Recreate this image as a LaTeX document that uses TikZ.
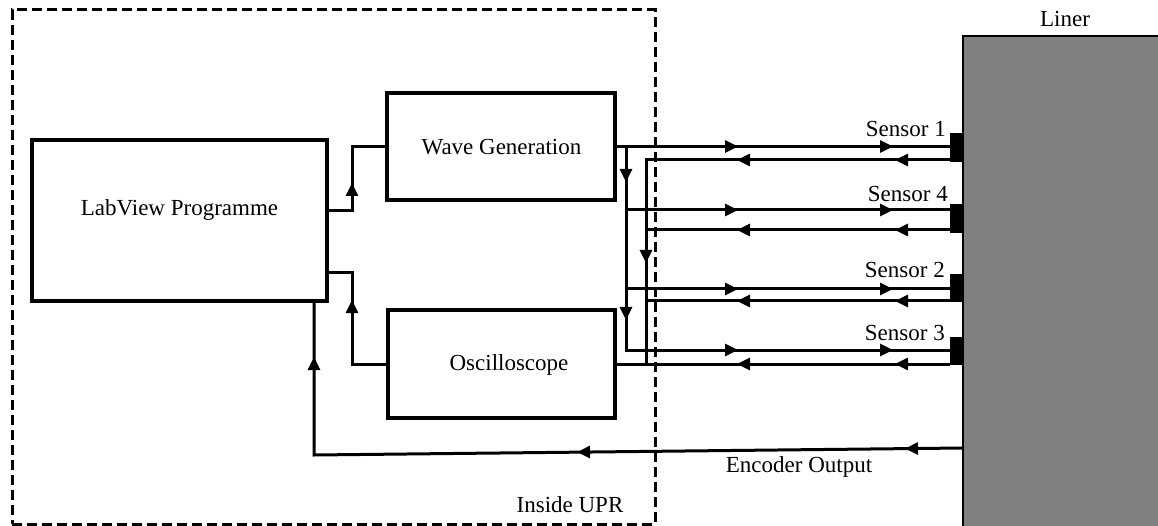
\documentclass[tikz,border=0pt]{standalone}
\usepackage{fontspec}
\setmainfont{Liberation Serif}
\usetikzlibrary{arrows.meta,decorations.markings}
\tikzset{
  wire/.style={line width=3pt},
  blk/.style={draw, line width=3.2pt, inner sep=0pt, outer sep=0pt, anchor=north west},
  uprbox/.style={draw, dash pattern=on 10pt off 5pt, line width=3pt, inner sep=0pt, outer sep=0pt, anchor=north west},
  linerbox/.style={fill=gray, draw=black, line width=1.5pt, inner sep=0pt, outer sep=0pt, anchor=north west},
  lbl/.style={font=\fontsize{23}{27}\selectfont, inner sep=0pt},
  sensorblk/.style={fill=black, inner sep=0pt, outer sep=0pt, minimum width=14pt, minimum height=29pt, anchor=north west},
  mk/.style={postaction={decorate,decoration={markings,mark=at position #1 with {\arrow{Triangle[length=13pt,width=12pt]}}}}},
}
\begin{document}
\begin{tikzpicture}[x=1pt,y=-1pt]
\useasboundingbox (0,0) rectangle (1158,526);
% regions
\node[uprbox, minimum width=643pt, minimum height=514pt] (upr) at (12,10) {};
\node[linerbox, minimum width=200pt, minimum height=495pt] (liner) at (963,36) {};
% boxes
\node[blk, minimum width=295pt, minimum height=161pt] (lv) at (32,140) {};
\node[blk, minimum width=228pt, minimum height=107pt] (wg) at (387,93) {};
\node[blk, minimum width=227pt, minimum height=108pt] (osc) at (388,310) {};
% texts
\node[lbl, anchor=base] (lvt) at (179.5,216) {LabView Programme};
\node[lbl, anchor=base] (wgt) at (501.5,155) {Wave Generation};
\node[lbl, anchor=base] (osct) at (509,370) {Oscilloscope};
\node[lbl, anchor=base] (uprt) at (570,512) {Inside UPR};
\node[lbl, anchor=base] (enct) at (799,472) {Encoder Output};
\node[lbl, anchor=base] (linert) at (1065,27) {Liner};
\node[lbl, anchor=base east] (l1) at (946,137) {Sensor 1};
\node[lbl, anchor=base east] (l4) at (948,202) {Sensor 4};
\node[lbl, anchor=base east] (l2) at (945,278) {Sensor 2};
\node[lbl, anchor=base east] (l3) at (945,340) {Sensor 3};
% coordinates
\coordinate (lvout) at ([yshift=10pt]lv.east);
\coordinate (lvin2) at ([yshift=-52.5pt]lv.east);
\coordinate (lvin) at ([xshift=-13pt]lv.south east);
\coordinate (enc) at (963,448);
\coordinate (encc) at (314,455);
\coordinate (s1i) at (950,146.5);
\coordinate (s1o) at (950,160);
\coordinate (s4i) at (950,210);
\coordinate (s4o) at (950,230);
\coordinate (s2i) at (950,289);
\coordinate (s2o) at (950,301);
\coordinate (s3i) at (950,350);
\coordinate (s3o) at (950,364);
\coordinate (busA) at (626,146.5);
\coordinate (busB) at (646,160);
% LabView <-> boxes
\draw[wire, mk=52.5pt] (lvout) -- ++(25,0) |- (wg.west);
\draw[wire, mk=100pt] (osc.west) -- ++(-36,0) |- (lvin2);
% encoder
\draw[wire, mk=58pt, mk=386pt, mk=747pt] (enc) -- (encc) -- (lvin);
% outgoing
\draw[wire, mk=123pt, mk=278pt] (wg.east) -- (s1i);
\draw[wire, mk=35.5pt, mk=173.5pt, mk=315.5pt, mk=470.5pt] (busA) -- (busA |- s3i) -- (s3i);
\draw[wire, mk=112pt, mk=267pt] (busA |- s4i) -- (s4i);
\draw[wire, mk=112pt, mk=267pt] (busA |- s2i) -- (s2i);
% returns
\draw[wire, mk=55pt, mk=213pt, mk=407pt] (s1o) -- (busB) -- (busB |- s3o);
\draw[wire, mk=55pt, mk=213pt] (s4o) -- (busB |- s4o);
\draw[wire, mk=55pt, mk=213pt] (s2o) -- (busB |- s2o);
\draw[wire, mk=55pt, mk=213pt] (s3o) -- (osc.east);
% sensors
\node[sensorblk] (s1) at (950,133) {};
\node[sensorblk] (s4) at (950,204) {};
\node[sensorblk, minimum height=28pt] (s2) at (950,274) {};
\node[sensorblk, minimum height=28pt] (s3) at (950,337) {};
\end{tikzpicture}
\end{document}
